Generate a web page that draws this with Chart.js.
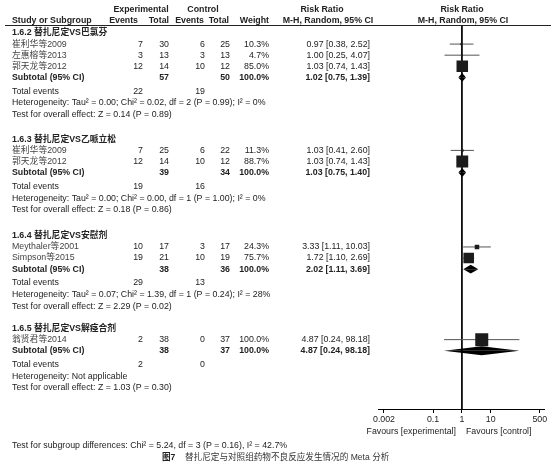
<!DOCTYPE html>
<html>
<head>
<meta charset="utf-8">
<script src="https://cdn.jsdelivr.net/npm/chart.js@4.4.1/dist/chart.umd.min.js"></script>
<style>
  html, body { margin: 0; padding: 0; background: #fff; }
  #wrap { width: 554px; height: 463px; position: relative; }
</style>
</head>
<body>
<div id="wrap"><canvas id="forest"></canvas></div>
<script>
// Data
const groupTitles = ['1.6.2 替扎尼定VS巴氯芬', '1.6.3 替扎尼定VS乙哌立松', '1.6.4 替扎尼定VS安慰剂', '1.6.5 替扎尼定VS解痉合剂'];
const studyNames = ['崔利华等2009', '左惠榕等2013', '郭天龙等2012', '崔利华等2009', '郭天龙等2012', 'Meythaler等2001', 'Simpson等2015', '翁贤君等2014'];
const studyGroup = [0, 0, 0, 1, 1, 2, 2, 3];
const expEvents = [7, 3, 12, 7, 12, 10, 19, 2];
const expTotal = [30, 13, 14, 25, 14, 17, 21, 38];
const ctlEvents = [6, 3, 10, 6, 10, 3, 10, 0];
const ctlTotal = [25, 13, 12, 22, 12, 17, 19, 37];
const weights = [10.3, 4.7, 85.0, 11.3, 88.7, 24.3, 75.7, 100.0];
const rr = [0.97, 1.00, 1.03, 1.03, 1.03, 3.33, 1.72, 4.87];
const rrLow = [0.38, 0.25, 0.74, 0.41, 0.74, 1.11, 1.10, 0.24];
const rrHigh = [2.52, 4.07, 1.43, 2.60, 1.43, 10.03, 2.69, 98.18];

// Subgroup totals
const subExpTotal = [57, 39, 38, 38];
const subCtlTotal = [50, 34, 36, 37];
const subRR = [1.02, 1.03, 2.02, 4.87];
const subLow = [0.75, 0.75, 1.11, 0.24];
const subHigh = [1.39, 1.40, 3.69, 98.18];
const totalExpEvents = [22, 19, 29, 2];
const totalCtlEvents = [19, 16, 13, 0];
const heterogeneity = [
    'Heterogeneity: Tau² = 0.00; Chi² = 0.02, df = 2 (P = 0.99); I² = 0%',
    'Heterogeneity: Tau² = 0.00; Chi² = 0.00, df = 1 (P = 1.00); I² = 0%',
    'Heterogeneity: Tau² = 0.07; Chi² = 1.39, df = 1 (P = 0.24); I² = 28%',
    'Heterogeneity: Not applicable'
];
const overallEffect = [
    'Test for overall effect: Z = 0.14 (P = 0.89)',
    'Test for overall effect: Z = 0.18 (P = 0.86)',
    'Test for overall effect: Z = 2.29 (P = 0.02)',
    'Test for overall effect: Z = 1.03 (P = 0.30)'
];
const subgroupTest = 'Test for subgroup differences: Chi² = 5.24, df = 3 (P = 0.16), I² = 42.7%';
const tickValues = [0.002, 0.1, 1, 10, 500];

// Layout (row units on the y scale)
const groupStart = [0.72, 10.3, 19.0, 27.35];
const rowMax = 34.6;

const fmt = (v) => v.toFixed(2);
const ciText = (m, lo, hi) => `${fmt(m)} [${fmt(lo)}, ${fmt(hi)}]`;

const studyRow = (i) => {
    const g = studyGroup[i];
    const k = studyGroup.slice(0, i).filter(x => x === g).length;
    return groupStart[g] + 1 + k;
};
const subtotalRow = (g) => groupStart[g] + 1 + studyGroup.filter(x => x === g).length;

// square side grows with weight
const squareRadius = (w) => Math.max(2, 13 * Math.pow(w / 100, 0.75)) / (2 * Math.SQRT1_2);

// Datasets
const datasets = [];

datasets.push({
    label: 'studies',
    data: rr.map((v, i) => ({ x: v, y: studyRow(i) })),
    pointStyle: 'rect',
    pointRadius: weights.map(squareRadius),
    backgroundColor: '#1c1c1c',
    borderWidth: 0,
    showLine: false
});

subRR.forEach((m, g) => {
    const r = subtotalRow(g);
    [-0.4, 0.4].forEach(h => {
        datasets.push({
            label: 'diamond',
            data: [{ x: subLow[g], y: r }, { x: m, y: r + h }, { x: subHigh[g], y: r }],
            showLine: true,
            borderWidth: 0,
            borderColor: '#000',
            backgroundColor: '#000',
            pointRadius: 0,
            fill: { value: r }
        });
    });
});

rr.forEach((v, i) => {
    datasets.push({
        label: 'ci',
        data: [{ x: rrLow[i], y: studyRow(i) }, { x: rrHigh[i], y: studyRow(i) }],
        showLine: true,
        borderColor: '#555',
        borderWidth: 1,
        pointRadius: 0
    });
});

datasets.push({
    label: 'null',
    data: [{ x: 1, y: 0 }, { x: 1, y: rowMax }],
    showLine: true,
    borderColor: '#000',
    borderWidth: 1,
    pointRadius: 0
});

// Table text plugin
const FONT = '"Liberation Sans", Arial, "Noto Sans CJK SC", sans-serif';
const SIZE = 8.8;

const tablePlugin = {
    id: 'table',
    afterDraw(chart) {
        const ctx = chart.ctx;
        const ys = chart.scales.y;
        const row = (v) => ys.getPixelForValue(v);
        const put = (str, x, y, align, bold, color, size) => {
            ctx.font = `${bold ? 'bold ' : ''}${size || SIZE}px ${FONT}`;
            ctx.textAlign = align;
            ctx.textBaseline = 'middle';
            ctx.fillStyle = color || '#222';
            ctx.fillText(str, x, y);
        };
        ctx.save();

        // header
        put('Experimental', 141, row(-1.4), 'center', true);
        put('Control', 203, row(-1.4), 'center', true);
        put('Risk Ratio', 322, row(-1.4), 'center', true);
        put('Risk Ratio', 462, row(-1.4), 'center', true);
        const hy = row(-0.42);
        put('Study or Subgroup', 12, hy, 'left', true);
        put('Events', 138, hy, 'right', true);
        put('Total', 169, hy, 'right', true);
        put('Events', 204, hy, 'right', true);
        put('Total', 229, hy, 'right', true);
        put('Weight', 269, hy, 'right', true);
        put('M-H, Random, 95% CI', 328, hy, 'center', true);
        put('M-H, Random, 95% CI', 463, hy, 'center', true);

        ctx.strokeStyle = '#222';
        ctx.lineWidth = 1;
        ctx.beginPath();
        ctx.moveTo(5, row(0) + 0.5);
        ctx.lineTo(551, row(0) + 0.5);
        ctx.stroke();

        // studies
        studyNames.forEach((name, i) => {
            const y = row(studyRow(i));
            put(name, 12, y, 'left', false, '#444');
            put(String(expEvents[i]), 143, y, 'right');
            put(String(expTotal[i]), 169, y, 'right');
            put(String(ctlEvents[i]), 205, y, 'right');
            put(String(ctlTotal[i]), 230, y, 'right');
            put(weights[i].toFixed(1) + '%', 269, y, 'right');
            put(ciText(rr[i], rrLow[i], rrHigh[i]), 370, y, 'right');
        });

        // subgroups
        groupTitles.forEach((title, g) => {
            put(title, 12, row(groupStart[g]), 'left', true);
            const s = subtotalRow(g);
            const y = row(s);
            put('Subtotal (95% CI)', 12, y, 'left', true);
            put(String(subExpTotal[g]), 169, y, 'right', true);
            put(String(subCtlTotal[g]), 230, y, 'right', true);
            put('100.0%', 269, y, 'right', true);
            put(ciText(subRR[g], subLow[g], subHigh[g]), 370, y, 'right', true);
            const ty = row(s + 1.25);
            put('Total events', 12, ty, 'left');
            put(String(totalExpEvents[g]), 143, ty, 'right');
            put(String(totalCtlEvents[g]), 205, ty, 'right');
            put(heterogeneity[g], 12, row(s + 2.3), 'left');
            put(overallEffect[g], 12, row(s + 3.35), 'left');
        });

        // footer
        put('Favours [experimental]', 456, row(36.6), 'right');
        put('Favours [control]', 466, row(36.6), 'left');
        put(subgroupTest, 12, row(37.9), 'left');
        put('图7', 162, row(39.0), 'left', true, '#222', 8.6);
        put('替扎尼定与对照组药物不良反应发生情况的 Meta 分析', 185, row(39.0), 'left', false, '#333', 8.6);

        ctx.restore();
    }
};

const chart = new Chart(document.getElementById('forest'), {
    type: 'scatter',
    data: { datasets },
    options: {
        responsive: true,
        maintainAspectRatio: false,
        animation: false,
        layout: { padding: { left: 378, right: 9, top: 25, bottom: 0 } },
        plugins: { legend: { display: false }, tooltip: { enabled: false } },
        elements: { line: { tension: 0 } },
        scales: {
            x: {
                type: 'logarithmic',
                min: 0.00124,
                max: 745,
                afterBuildTicks: (scale) => { scale.ticks = tickValues.map(v => ({ value: v })); },
                afterFit: (scale) => { scale.height = 54; },
                ticks: {
                    callback: (v) => String(v),
                    autoSkip: false,
                    maxRotation: 0,
                    padding: 1,
                    color: '#222',
                    font: { family: FONT, size: SIZE }
                },
                grid: { drawOnChartArea: false, tickLength: 4, color: '#000' },
                border: { color: '#000', width: 1 }
            },
            y: {
                display: false,
                min: 0,
                max: rowMax,
                reverse: true
            }
        }
    },
    plugins: [tablePlugin]
});
</script>
</body>
</html>
